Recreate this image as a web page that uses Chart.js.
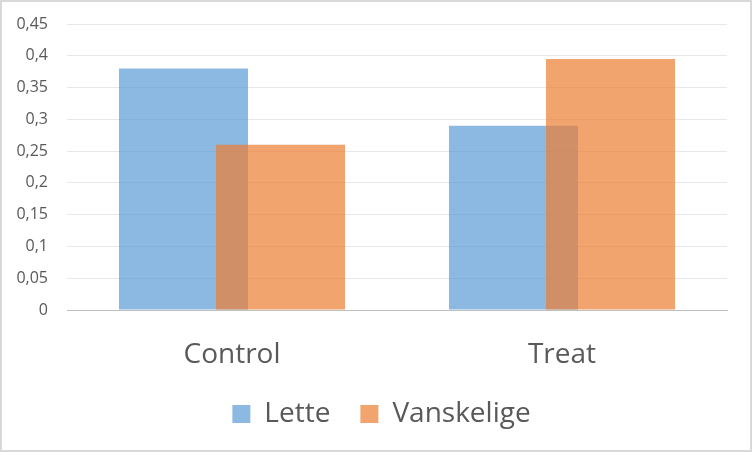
<!DOCTYPE html>
<html>
<head>
<meta charset="utf-8">
<script src="https://cdn.jsdelivr.net/npm/chart.js@4.4.0/dist/chart.umd.min.js"></script>
<style>
  html, body { margin: 0; padding: 0; background: #fff; }
  #wrap {
    width: 752px; height: 452px;
    box-sizing: border-box;
    border: 2px solid #d9d9d9;
    background: #fff;
  }
  #chart { display: block; }
</style>
</head>
<body>
<div id="wrap"><canvas id="chart" width="748" height="448"></canvas></div>
<script>
// Data
const categories = ['Control', 'Treat'];
const letteValues = [0.38, 0.29];
const vanskeligeValues = [0.26, 0.395];
const yTickLabels = ['0', '0,05', '0,1', '0,15', '0,2', '0,25', '0,3', '0,35', '0,4', '0,45'];

// Excel draws later series on top; Chart.js does the opposite, so redraw in index order
const drawInOrder = {
    id: 'drawInOrder',
    beforeDatasetsDraw(chart) {
        for (let i = 0; i < chart.data.datasets.length; i++) {
            const meta = chart.getDatasetMeta(i);
            if (!meta.hidden) meta.controller.draw();
        }
        return false;
    }
};

function fixWidth(w) {
    return function(scale) {
        scale.width = w;
        scale.paddingTop = 0;
        scale.paddingBottom = 0;
    };
}

document.addEventListener('DOMContentLoaded', function() {
    const ctx = document.getElementById('chart').getContext('2d');
    new Chart(ctx, {
        type: 'bar',
        data: {
            labels: categories,
            datasets: [
                {
                    label: 'Lette',
                    data: letteValues,
                    backgroundColor: 'rgba(91, 155, 213, 0.7)',
                    borderWidth: 0
                },
                {
                    label: 'Vanskelige',
                    data: vanskeligeValues,
                    backgroundColor: 'rgba(237, 125, 49, 0.7)',
                    borderWidth: 0
                }
            ]
        },
        plugins: [drawInOrder],
        options: {
            responsive: false,
            animation: false,
            categoryPercentage: 0.588,
            barPercentage: 1.33,
            layout: {
                padding: { left: 11, right: 0, top: 22, bottom: 12 }
            },
            plugins: {
                tooltip: { enabled: false },
                legend: {
                    position: 'bottom',
                    labels: {
                        font: { family: 'Open Sans', size: 28 },
                        color: '#595959',
                        boxWidth: 18,
                        boxHeight: 18,
                        padding: 30
                    }
                }
            },
            scales: {
                x: {
                    grid: { display: false, drawTicks: false },
                    border: { display: true, color: '#bfbfbf', width: 1 },
                    ticks: {
                        font: { family: 'Open Sans', size: 28 },
                        color: '#595959',
                        padding: 28
                    },
                    afterFit: function(scale) { scale.height = 60; }
                },
                y: {
                    min: 0,
                    max: 0.45,
                    grid: { color: '#e8e8e8', drawTicks: false },
                    border: { display: false },
                    ticks: {
                        stepSize: 0.05,
                        font: { family: 'Open Sans', size: 16 },
                        color: '#595959',
                        padding: 19,
                        callback: function(value) {
                            return yTickLabels[Math.round(value / 0.05)];
                        }
                    },
                    afterFit: fixWidth(54)
                },
                // empty right axis, only keeps the plot clear of the right edge
                yRight: {
                    position: 'right',
                    grid: { display: false, drawTicks: false },
                    border: { display: false },
                    ticks: { display: false },
                    afterFit: fixWidth(23)
                }
            }
        }
    });
});
</script>
</body>
</html>
